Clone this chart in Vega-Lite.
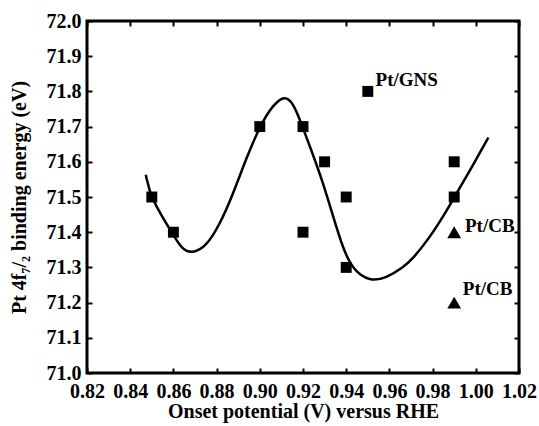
{
  "$schema": "https://vega.github.io/schema/vega-lite/v6.json",
  "width": 432,
  "height": 352,
  "autosize": "none",
  "padding": {"left": 87, "top": 21, "right": 20, "bottom": 53},
  "background": "white",
  "config": {
    "view": {"stroke": "black", "strokeWidth": 3},
    "font": "Liberation Serif",
    "axis": {
      "domain": false,
      "grid": false,
      "tickColor": "black",
      "tickWidth": 2,
      "tickSize": -5,
      "labelOverlap": false,
      "labelFlush": false,
      "labelFont": "Liberation Serif",
      "labelFontWeight": "bold",
      "labelFontSize": 20,
      "labelColor": "black",
      "titleFont": "Liberation Serif",
      "titleFontWeight": "bold",
      "titleFontSize": 20,
      "titleColor": "black"
    }
  },
  "datasets": {
    "curve": [
      {"x": 0.8472, "y": 71.563},
      {"x": 0.8496, "y": 71.495},
      {"x": 0.8596, "y": 71.396},
      {"x": 0.8642, "y": 71.349},
      {"x": 0.8689, "y": 71.340},
      {"x": 0.8751, "y": 71.359},
      {"x": 0.8813, "y": 71.420},
      {"x": 0.8874, "y": 71.505},
      {"x": 0.8936, "y": 71.608},
      {"x": 0.8995, "y": 71.693},
      {"x": 0.9045, "y": 71.749},
      {"x": 0.9110, "y": 71.790},
      {"x": 0.9153, "y": 71.770},
      {"x": 0.9196, "y": 71.703},
      {"x": 0.9245, "y": 71.622},
      {"x": 0.9292, "y": 71.542},
      {"x": 0.9338, "y": 71.448},
      {"x": 0.9385, "y": 71.354},
      {"x": 0.9431, "y": 71.293},
      {"x": 0.9509, "y": 71.260},
      {"x": 0.9586, "y": 71.270},
      {"x": 0.9663, "y": 71.300},
      {"x": 0.9709, "y": 71.325},
      {"x": 0.9787, "y": 71.385},
      {"x": 0.9864, "y": 71.460},
      {"x": 0.9898, "y": 71.497},
      {"x": 0.9973, "y": 71.575},
      {"x": 1.0058, "y": 71.669}
    ],
    "squares": [
      {"x": 0.85, "y": 71.5},
      {"x": 0.86, "y": 71.4},
      {"x": 0.90, "y": 71.7},
      {"x": 0.92, "y": 71.7},
      {"x": 0.92, "y": 71.4},
      {"x": 0.93, "y": 71.6},
      {"x": 0.94, "y": 71.5},
      {"x": 0.94, "y": 71.3},
      {"x": 0.95, "y": 71.8},
      {"x": 0.99, "y": 71.6},
      {"x": 0.99, "y": 71.5}
    ],
    "triangles": [
      {"x": 0.99, "y": 71.4},
      {"x": 0.99, "y": 71.2}
    ],
    "labels": [
      {"x": 0.9536, "y": 71.816, "text": "Pt/GNS"},
      {"x": 0.995, "y": 71.401, "text": "Pt/CB"},
      {"x": 0.994, "y": 71.223, "text": "Pt/CB"}
    ]
  },
  "resolve": {"axis": {"x": "independent", "y": "independent"}},
  "layer": [
    {
      "data": {"name": "curve"},
      "mark": {"type": "line", "color": "black", "strokeWidth": 2.5, "interpolate": "basis"},
      "encoding": {
        "x": {
          "field": "x", "type": "quantitative",
          "scale": {"domain": [0.82, 1.02], "nice": false, "zero": false},
          "axis": {
            "orient": "bottom",
            "values": [0.82, 0.84, 0.86, 0.88, 0.90, 0.92, 0.94, 0.96, 0.98, 1.00, 1.02],
            "format": ".2f",
            "labelPadding": 13,
            "title": "Onset potential (V) versus RHE",
            "titlePadding": 0
          }
        },
        "y": {
          "field": "y", "type": "quantitative",
          "scale": {"domain": [71.0, 72.0], "nice": false, "zero": false},
          "axis": {
            "orient": "left",
            "values": [71.0, 71.1, 71.2, 71.3, 71.4, 71.5, 71.6, 71.7, 71.8, 71.9, 72.0],
            "format": ".1f",
            "labelPadding": 11,
            "title": "Pt 4f₇/₂ binding energy (eV)",
            "titlePadding": 17
          }
        }
      }
    },
    {
      "data": {"name": "squares"},
      "mark": {"type": "point", "shape": "square", "filled": true, "color": "black", "size": 120, "opacity": 1},
      "encoding": {
        "x": {
          "field": "x", "type": "quantitative",
          "axis": {
            "orient": "top",
            "values": [0.82, 0.84, 0.86, 0.88, 0.90, 0.92, 0.94, 0.96, 0.98, 1.00, 1.02],
            "labels": false,
            "title": null
          }
        },
        "y": {
          "field": "y", "type": "quantitative",
          "axis": {
            "orient": "right",
            "values": [71.0, 71.1, 71.2, 71.3, 71.4, 71.5, 71.6, 71.7, 71.8, 71.9, 72.0],
            "labels": false,
            "title": null
          }
        }
      }
    },
    {
      "data": {"name": "triangles"},
      "mark": {"type": "point", "shape": "triangle-up", "filled": true, "color": "black", "size": 190, "opacity": 1},
      "encoding": {
        "x": {"field": "x", "type": "quantitative", "axis": null},
        "y": {"field": "y", "type": "quantitative", "axis": null}
      }
    },
    {
      "data": {"name": "labels"},
      "mark": {"type": "text", "align": "left", "baseline": "alphabetic", "font": "Liberation Serif", "fontWeight": "bold", "fontSize": 19, "color": "black"},
      "encoding": {
        "x": {"field": "x", "type": "quantitative", "axis": null},
        "y": {"field": "y", "type": "quantitative", "axis": null},
        "text": {"field": "text"}
      }
    }
  ]
}
